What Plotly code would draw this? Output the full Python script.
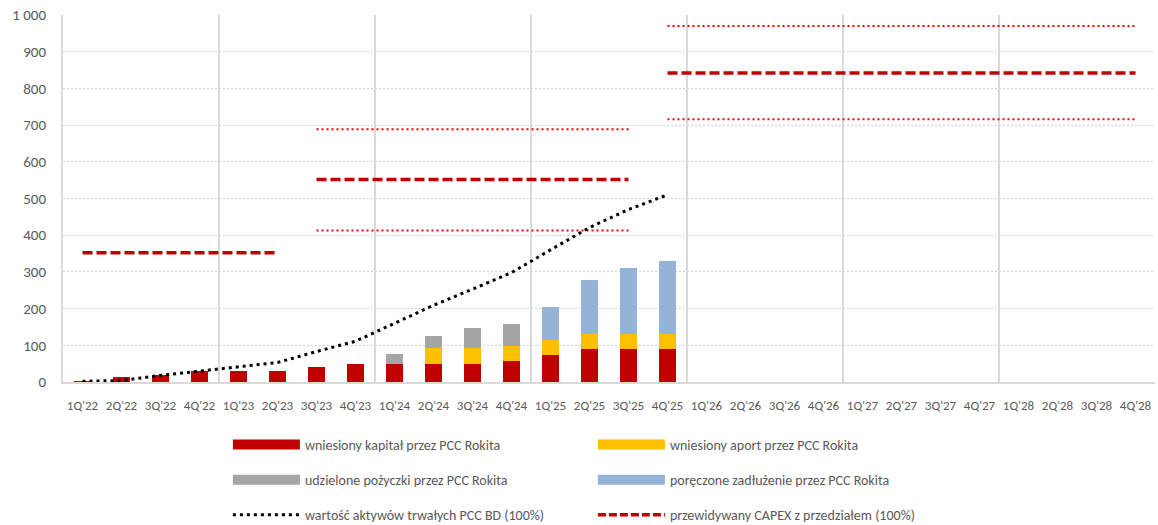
import plotly.graph_objects as go

# ----------------------------------------------------------
# Dane
# ----------------------------------------------------------
kwartaly = [f"{q}Q'{r}" for r in range(22, 29) for q in range(1, 5)]
kwartaly_fakt = kwartaly[:16]

kapital = [2, 13, 20, 30, 30, 30, 42, 50, 50, 50, 50, 58, 73, 90, 90, 90]
aport = [0, 0, 0, 0, 0, 0, 0, 0, 0, 42, 42, 41, 41, 40, 40, 40]
pozyczki = [0, 0, 0, 0, 0, 0, 0, 0, 26, 33, 55, 60, 0, 0, 0, 0]
poreczone = [0, 0, 0, 0, 0, 0, 0, 0, 0, 0, 0, 0, 91, 149, 182, 199]
aktywa = [2, 4, 18, 30, 41, 53, 83, 111, 160, 209, 253, 298, 360, 421, 470, 510]

capex_od = ["1Q'22", "3Q'23", "4Q'25"]
capex_do = ["2Q'23", "3Q'25", "4Q'28"]
capex_sr = [352, 552, 842]
capex_min = [None, 413, 716]
capex_max = [None, 689, 970]

CZ = "#C00000"
ZO = "#FFC000"
SZ = "#A5A5A5"
NI = "#95B3D7"
FONT = "Carlito, Liberation Sans Narrow, Liberation Sans, Arial"
TXT = "#595959"
GRID = "#D9D9D9"

fig = go.Figure()

# ----------------------------------------------------------
# Slupki
# ----------------------------------------------------------
for nazwa, wart, kol in [
    ("wniesiony kapitał przez PCC Rokita", kapital, CZ),
    ("wniesiony aport przez PCC Rokita", aport, ZO),
    ("udzielone pożyczki przez PCC Rokita", pozyczki, SZ),
    ("poręczone zadłużenie przez PCC Rokita", poreczone, NI),
]:
    fig.add_trace(go.Bar(x=kwartaly_fakt, y=wart, name=nazwa, marker_color=kol,
                         marker_line_width=0, showlegend=False))

# ----------------------------------------------------------
# CAPEX
# ----------------------------------------------------------
for od, do, sr, mn, mx in zip(capex_od, capex_do, capex_sr, capex_min, capex_max):
    seg = kwartaly[kwartaly.index(od):kwartaly.index(do) + 1]
    for v in (mn, mx):
        if v is not None:
            fig.add_trace(go.Scatter(x=seg, y=[v] * len(seg), mode="lines",
                                     line=dict(color="#FF0000", width=2, dash="2px,3px"),
                                     showlegend=False, hoverinfo="skip"))
    fig.add_trace(go.Scatter(x=seg, y=[sr] * len(seg), mode="lines",
                             line=dict(color=CZ, width=3.5, dash="10px,4px"),
                             showlegend=False))

# ----------------------------------------------------------
# Aktywa trwale
# ----------------------------------------------------------
fig.add_trace(go.Scatter(x=kwartaly_fakt, y=aktywa, mode="lines",
                         line=dict(color="black", width=3, dash="3px,4px"),
                         showlegend=False))

# pusta seria na osi pomocniczej - siatka roczna
fig.add_trace(go.Scatter(x=[None], y=[None], xaxis="x2", showlegend=False,
                         hoverinfo="skip"))

# ----------------------------------------------------------
# Legenda (3 wiersze po 2 pozycje)
# ----------------------------------------------------------
legenda = [
    ("wniesiony kapitał przez PCC Rokita", dict(color=CZ, width=10), "legend"),
    ("wniesiony aport przez PCC Rokita", dict(color=ZO, width=10), "legend"),
    ("udzielone pożyczki przez PCC Rokita", dict(color=SZ, width=10), "legend2"),
    ("poręczone zadłużenie przez PCC Rokita", dict(color=NI, width=10), "legend2"),
    ("wartość aktywów trwałych PCC BD (100%)", dict(color="black", width=3, dash="3px,4px"), "legend3"),
    ("przewidywany CAPEX z przedziałem (100%)", dict(color=CZ, width=3.5, dash="8px,3px"), "legend3"),
]
for nazwa, lin, leg in legenda:
    fig.add_trace(go.Scatter(x=[None], y=[None], mode="lines", name=nazwa,
                             line=lin, legend=leg))

leg_style = dict(orientation="h", x=0.151, xanchor="left", yanchor="middle",
                 traceorder="normal",
                 entrywidth=283, entrywidthmode="pixels", itemwidth=67,
                 font=dict(family=FONT, size=14, color=TXT), bgcolor="rgba(0,0,0,0)")

# figura troche wyzsza niz okno, zeby dolna legenda nie sciskala wykresu
fig.update_layout(
    width=1158, height=533,
    margin=dict(l=63, r=3, t=15, b=150),
    plot_bgcolor="white", paper_bgcolor="white",
    barmode="stack", bargap=0.54,
    separators=", ",
    font=dict(family=FONT, color=TXT),
    legend=dict(y=-0.168, **leg_style),
    legend2=dict(y=-0.264, **leg_style),
    legend3=dict(y=-0.359, **leg_style),
    xaxis=dict(type="category", categoryorder="array", categoryarray=kwartaly,
               range=[-0.5, 27.5], showgrid=False, tickangle=0, automargin=False,
               tickfont=dict(size=13, color=TXT), ticks="outside", ticklen=10,
               tickcolor="rgba(0,0,0,0)",
               showline=True, linecolor=GRID, linewidth=2),
    xaxis2=dict(overlaying="x", anchor="y", range=[-0.5, 27.5], tick0=-0.5, dtick=4,
                showgrid=True, gridcolor=GRID, gridwidth=2, automargin=False,
                showticklabels=False, ticks="", zeroline=False),
    yaxis=dict(range=[0, 1000], dtick=100, showgrid=True, gridcolor="#D0D0D0",
               griddash="2px,2px", gridwidth=1, tickformat=",d", automargin=False,
               tickfont=dict(size=15, color=TXT), ticks="outside", ticklen=12,
               tickcolor="rgba(0,0,0,0)",
               showline=True, linecolor=GRID, linewidth=2, zeroline=False),
)

# bez domyslnego marginesu body (8 px) i bez paska narzedzi
fig.write_html("out.html", config={"displayModeBar": False},
               post_script="document.body.style.margin='0';")
